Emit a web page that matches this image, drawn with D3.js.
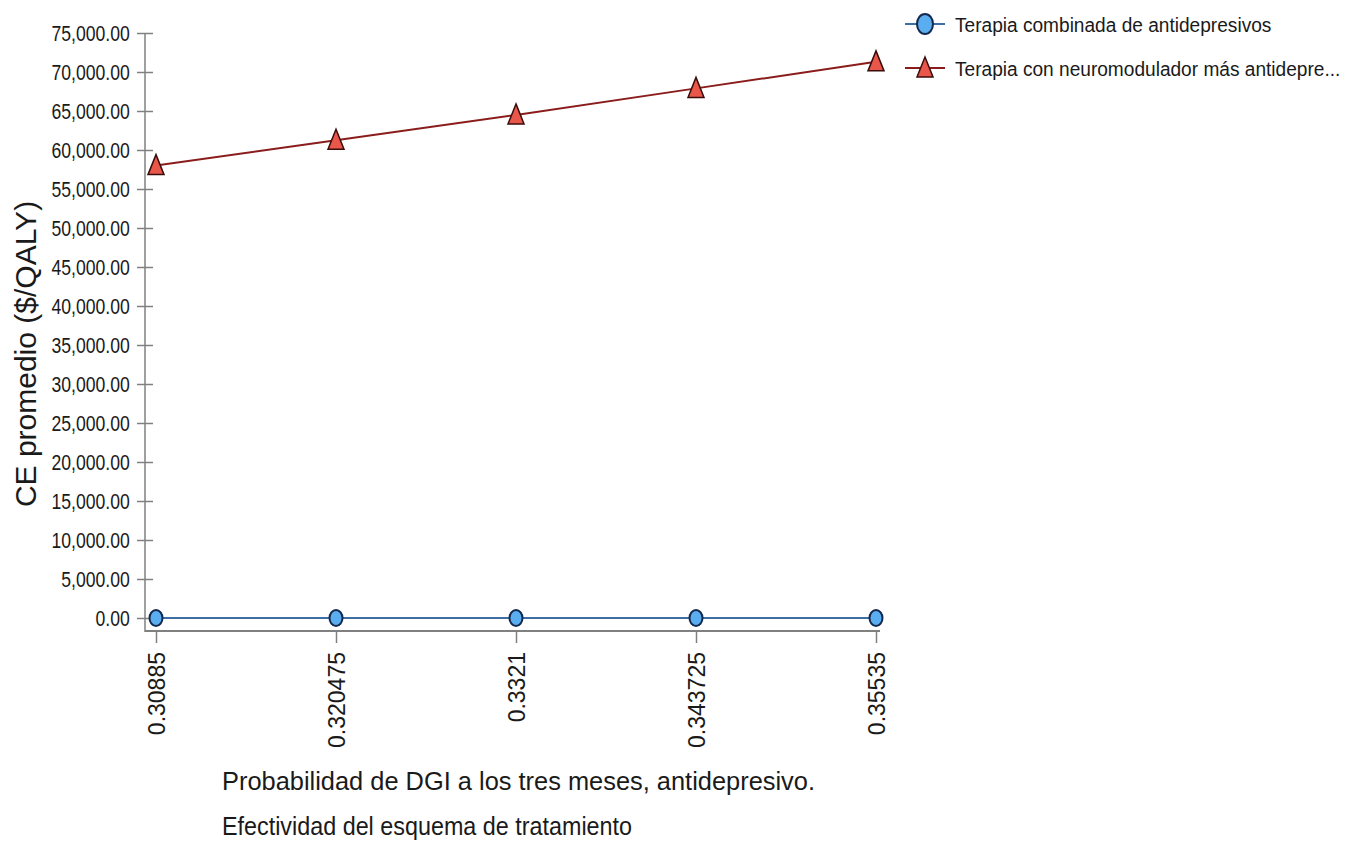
<!DOCTYPE html>
<html>
<head>
<meta charset="utf-8">
<script src="https://cdn.jsdelivr.net/npm/d3@7"></script>
<style>
  body { margin: 0; background: #fff; }
  svg { display: block; }
  text { font-family: "Liberation Sans", Arial, sans-serif; fill: #1a1a1a; }
</style>
</head>
<body>
<div id="chart"></div>
<script>
    // Data
    var xLabels = ["0.30885", "0.320475", "0.3321", "0.343725", "0.35535"];
    var seriesNames = ["Terapia combinada de antidepresivos", "Terapia con neuromodulador más antidepre..."];
    var combinada = [0, 0, 0, 0, 0];
    var neuromodulador = [58000, 61250, 64500, 67900, 71300];
    var yTicks = [0, 5000, 10000, 15000, 20000, 25000, 30000, 35000, 40000, 45000, 50000, 55000, 60000, 65000, 70000, 75000];

    var width = 1359, height = 845;
    var svg = d3.select("#chart").append("svg").attr("width", width).attr("height", height);

    // Scales
    var xScale = d3.scalePoint().domain(xLabels).range([156, 876]);
    var yScale = d3.scaleLinear().domain([0, 75000]).range([618, 33]);
    var fmt = d3.format(",.2f");
    var axisColor = "#808080";
    var blue = "#3d6fa6", red = "#8b1c1c";

    // Y axis (labels drawn condensed)
    var gy = svg.append("g").attr("transform", "translate(145,0)")
        .call(d3.axisLeft(yScale).tickValues(yTicks).tickFormat(fmt).tickSize(8).tickSizeOuter(0));
    gy.select(".domain").remove();
    gy.selectAll(".tick line").attr("x1", 8).attr("x2", -8).attr("stroke", axisColor).attr("stroke-width", 1.5);
    gy.selectAll(".tick text")
        .attr("font-family", null).attr("font-size", 22).attr("fill", "#1a1a1a")
        .attr("x", -19).attr("dy", "0.36em")
        .attr("transform", "scale(0.8,1)");
    svg.append("line").attr("x1", 145).attr("x2", 145).attr("y1", 33).attr("y2", 632)
        .attr("stroke", axisColor).attr("stroke-width", 1.5);

    // X axis
    var gx = svg.append("g").attr("transform", "translate(0,631)")
        .call(d3.axisBottom(xScale).tickSize(12).tickSizeOuter(0));
    gx.select(".domain").remove();
    gx.selectAll(".tick line").attr("stroke", axisColor).attr("stroke-width", 1.5);
    gx.selectAll(".tick text")
        .attr("font-family", null)
        .attr("font-size", 23).attr("fill", "#1a1a1a")
        .attr("text-anchor", "end")
        .attr("transform", "rotate(-90)")
        .attr("x", -21).attr("y", 0).attr("dy", "0.36em");
    svg.append("line").attr("x1", 145).attr("x2", 880).attr("y1", 631).attr("y2", 631)
        .attr("stroke", axisColor).attr("stroke-width", 2);

    // Axis titles
    svg.append("text")
        .attr("transform", "translate(36,354) rotate(-90)")
        .attr("text-anchor", "middle")
        .attr("font-size", 30)
        .text("CE promedio ($/QALY)");
    svg.append("text").attr("x", 222).attr("y", 790).attr("font-size", 25)
        .attr("textLength", 593).attr("lengthAdjust", "spacingAndGlyphs")
        .text("Probabilidad de DGI a los tres meses, antidepresivo.");
    svg.append("text").attr("x", 222).attr("y", 835).attr("font-size", 25)
        .attr("textLength", 410).attr("lengthAdjust", "spacingAndGlyphs")
        .text("Efectividad del esquema de tratamiento");

    // Lines
    var line = d3.line().x(function(d, i) { return xScale(xLabels[i]); }).y(function(d) { return yScale(d); });
    svg.append("path").datum(combinada).attr("d", line).attr("fill", "none").attr("stroke", blue).attr("stroke-width", 2);
    svg.append("path").datum(neuromodulador).attr("d", line).attr("fill", "none").attr("stroke", red).attr("stroke-width", 2);

    // Markers
    var tri = "M0,-11L8,9L-8,9Z";
    svg.selectAll(".pt-b").data(combinada).enter().append("ellipse")
        .attr("cx", function(d, i) { return xScale(xLabels[i]); })
        .attr("cy", function(d) { return yScale(d); })
        .attr("rx", 6.5).attr("ry", 8)
        .attr("fill", "#5aaef0").attr("stroke", "#14294d").attr("stroke-width", 2);
    svg.selectAll(".pt-r").data(neuromodulador).enter().append("path")
        .attr("d", tri)
        .attr("transform", function(d, i) { return "translate(" + xScale(xLabels[i]) + "," + yScale(d) + ")"; })
        .attr("fill", "#e8574a").attr("stroke", "#3a0c0c").attr("stroke-width", 1.5);

    // Legend
    var legend = svg.append("g").attr("transform", "translate(905,24)");
    var items = legend.selectAll("g").data(seriesNames).enter().append("g")
        .attr("transform", function(d, i) { return "translate(0," + (i * 44) + ")"; });
    items.append("line").attr("x1", 0).attr("x2", 40).attr("y1", 0).attr("y2", 0)
        .attr("stroke", function(d, i) { return i === 0 ? blue : red; }).attr("stroke-width", 2);
    items.filter(function(d, i) { return i === 0; }).append("ellipse")
        .attr("cx", 20).attr("cy", 0).attr("rx", 8).attr("ry", 10)
        .attr("fill", "#5aaef0").attr("stroke", "#14294d").attr("stroke-width", 2);
    items.filter(function(d, i) { return i === 1; }).append("path")
        .attr("d", tri).attr("transform", "translate(20,0)")
        .attr("fill", "#e8574a").attr("stroke", "#3a0c0c").attr("stroke-width", 1.5);
    items.append("text").attr("font-size", 21).attr("dy", "0.36em")
        .attr("transform", "translate(50,0) scale(0.91,1)")
        .text(function(d) { return d; });
</script>
</body>
</html>
